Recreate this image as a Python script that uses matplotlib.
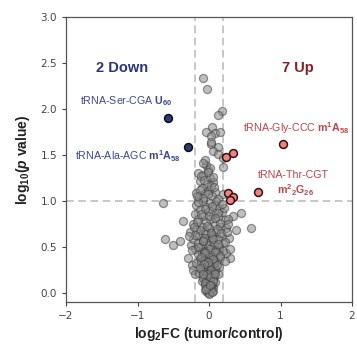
import matplotlib
matplotlib.use("Agg")
import matplotlib.pyplot as plt

plt.rcParams['mathtext.fontset'] = 'custom'
plt.rcParams['mathtext.rm'] = 'Liberation Sans'
plt.rcParams['mathtext.bf'] = 'Liberation Sans:bold'
plt.rcParams['mathtext.it'] = 'Liberation Sans:italic'
plt.rcParams['mathtext.bfit'] = 'Liberation Sans:bold:italic'

# ---- data ----
gray_x = [-0.09, -0.03, 0.18, 0.12, 0.04, -0.04, 0.08, 0.16, 0.03, 0.03, 0.12,
          0.03, 0.06, 0.13, 0.19, -0.04, -0.02, -0.16, 0.19,
          -0.65, -0.37, -0.61, -0.51, -0.40, 0.45, 0.59, 0.38, 0.33, -0.18, 0.19,
          0.19, 0.29, -0.30, -0.25, -0.24, -0.22, -0.20, 0.24,
          -0.08, 0.02, -0.12, 0.06, -0.03,
          -0.10, 0.00, 0.09, -0.06, 0.04, -0.14, 0.12,
          -0.08, 0.02, -0.18, 0.08, -0.04, 0.14, -0.12, 0.00,
          0.18, -0.20, 0.06, -0.08, 0.12, -0.15, 0.02, 0.22, -0.04, 0.26,
          -0.22, 0.08, -0.10, 0.16, 0.00, -0.18, 0.24, -0.06, 0.10, -0.26,
          0.04, -0.14, 0.18, -0.02, -0.22, 0.12, 0.28, -0.08, 0.06, -0.16, 0.22,
          0.00, -0.12, 0.14, -0.20, 0.08, -0.04, 0.20, -0.10, 0.02, -0.16, 0.12,
          -0.06, 0.06, -0.12, 0.16, 0.00, -0.08, 0.10, -0.18, 0.04, -0.02, 0.14,
          -0.10, 0.08, -0.04, 0.02, -0.14, 0.12, -0.06, 0.06,
          -0.02, -0.10, 0.08, 0.02, -0.05, 0.05, -0.01, 0.03, -0.03, 0.00,
          -0.05, 0.04, -0.09, 0.07, -0.02, 0.10, -0.07, 0.01, 0.05, -0.11,
          0.03, -0.04, 0.09, -0.08, 0.00, 0.06, -0.06, 0.02, -0.03, 0.04,
          -0.01, 0.07, -0.05, 0.01, -0.07, 0.05, -0.02, 0.03, 0.00, -0.04,
          0.02, -0.01, 0.01, -0.02, 0.00, 0.01,
          -0.05, -0.09, 0.01, -0.02, -0.11, 0.05, -0.07, 0.03, -0.13, 0.07,
          -0.01, -0.09, 0.10, -0.15, 0.04, -0.05, 0.13, -0.11, 0.00, 0.08,
          -0.17, 0.15, -0.03, 0.11, -0.13, 0.03, -0.19, 0.17, -0.07, 0.05,
          -0.09, 0.13, -0.15, 0.01, 0.09, -0.05, 0.15, -0.11, 0.05, -0.01,
          -0.07, 0.11, -0.13, 0.03, 0.07, -0.03, -0.09, 0.01, 0.05, -0.05,
          0.02, -0.02, 0.06, -0.06, 0.00, 0.04, -0.04, 0.02, 0.08, -0.08,
          0.21, -0.21, 0.25, -0.24, 0.18, -0.17, 0.22, 0.30, -0.28, 0.26]
gray_y = [2.33, 2.22, 1.98, 1.93, 1.80, 1.75, 1.74, 1.75, 1.70, 1.62, 1.59,
          1.64, 1.54, 1.51, 1.47, 1.39, 1.34, 1.30, 1.37,
          0.98, 0.78, 0.59, 0.52, 0.56, 0.87, 0.70, 0.68, 0.83, 1.08, 1.07,
          0.54, 0.38, 0.38, 0.52, 0.30, 0.25, 0.20, 0.43,
          1.28, 1.25, 1.22, 1.20, 1.18,
          1.14, 1.12, 1.10, 1.08, 1.05, 1.04, 1.02,
          1.00, 0.98, 0.96, 0.95, 0.93, 0.92, 0.90, 0.89,
          0.88, 0.86, 0.85, 0.84, 0.82, 0.80, 0.80, 0.79, 0.77, 0.80,
          0.75, 0.74, 0.72, 0.72, 0.70, 0.69, 0.70, 0.67, 0.66, 0.66,
          0.63, 0.62, 0.62, 0.60, 0.58, 0.58, 0.60, 0.56, 0.55, 0.54, 0.55,
          0.52, 0.50, 0.50, 0.48, 0.47, 0.46, 0.45, 0.44, 0.42, 0.42, 0.42,
          0.40, 0.38, 0.37, 0.38, 0.35, 0.33, 0.33, 0.32, 0.30, 0.28, 0.28,
          0.26, 0.25, 0.23, 0.21, 0.22, 0.20, 0.18, 0.17,
          0.15, 0.13, 0.12, 0.10, 0.08, 0.06, 0.04, 0.02, 0.01, 0.00,
          0.64, 0.61, 0.57, 0.52, 0.49, 0.47, 0.45, 0.40, 0.36, 0.34,
          0.31, 0.29, 0.26, 0.24, 0.22, 0.19, 0.16, 0.14, 0.11, 0.09,
          0.27, 0.32, 0.36, 0.41, 0.44, 0.15, 0.10, 0.07, 0.05, 0.12,
          0.03, 0.18, 0.24, 0.06, 0.30, 0.09,
          1.44, 1.41, 1.36, 1.31, 1.27, 1.26, 1.23, 1.16, 1.12, 1.15,
          1.07, 1.03, 1.00, 0.99, 0.94, 0.91, 0.87, 0.86, 0.83, 0.81,
          0.77, 0.76, 0.73, 0.69, 0.68, 0.65, 0.63, 0.65, 0.60, 0.58,
          0.56, 0.53, 0.50, 0.48, 0.44, 0.43, 0.40, 0.39, 0.37, 0.34,
          0.31, 0.30, 0.27, 0.25, 0.22, 0.20, 0.16, 0.17, 0.13, 0.11,
          0.07, 0.05, 0.02, 0.03, -0.01, 0.01, 0.04, 0.08, 0.20, 0.21,
          0.92, 0.72, 0.66, 0.47, 0.97, 1.05, 0.35, 0.48, 0.62, 0.75]
down_x = [-0.58, -0.30]
down_y = [1.90, 1.59]
up_x = [1.03, 0.24, 0.34, 0.69, 0.26, 0.34, 0.29]
up_y = [1.62, 1.48, 1.52, 1.10, 1.09, 1.04, 1.01]
fc_cut = [-0.2, 0.2]
p_cut = 1.0
xticks = [-2, -1, 0, 1, 2]
yticks = [0.0, 0.5, 1.0, 1.5, 2.0, 2.5, 3.0]

fig = plt.figure(figsize=(3.57, 3.44), dpi=100)
ax = fig.add_axes([0.185, 0.122, 0.801, 0.829])

ax.axvline(fc_cut[0], color='#b8b8b8', ls=(0, (5, 3)), lw=1.1, zorder=1)
ax.axvline(fc_cut[1], color='#b8b8b8', ls=(0, (5, 3)), lw=1.1, zorder=1)
ax.axhline(p_cut, color='#b8b8b8', ls=(0, (5, 3)), lw=1.1, zorder=1)

ax.scatter(gray_x, gray_y, s=34, facecolor='#8c8c8c', edgecolor='#404040',
           alpha=0.55, linewidths=0.9, zorder=2)
ax.scatter(down_x, down_y, s=32, facecolor='#2c3a78', edgecolor='#111111',
           linewidths=1.1, zorder=3)
ax.scatter(up_x, up_y, s=32, facecolor='#ea8585', edgecolor='#3a1010',
           linewidths=1.1, zorder=3)

blue = '#2a3580'
red = '#8e1c22'
ax.text(-1.21, 2.44, '2 Down', color=blue, fontsize=10.5, fontweight='bold',
        family='Liberation Sans', ha='center', va='center')
ax.text(1.24, 2.44, '7 Up', color=red, fontsize=10.5, fontweight='bold',
        family='Liberation Sans', ha='center', va='center')

lblue = '#3b4a8c'
lred = '#c0444a'
fs = 7.7
ax.text(-1.80, 2.08, r'tRNA-Ser-CGA $\mathbf{U}_{\mathbf{60}}$', color=lblue,
        fontsize=fs, family='Liberation Sans', ha='left', va='center')
ax.text(-1.87, 1.49, r'tRNA-Ala-AGC $\mathbf{m^{1}A}_{\mathbf{58}}$', color=lblue,
        fontsize=fs, family='Liberation Sans', ha='left', va='center')
ax.text(0.47, 1.79, r'tRNA-Gly-CCC $\mathbf{m^{1}A}_{\mathbf{58}}$', color=lred,
        fontsize=fs, family='Liberation Sans', ha='left', va='center')
ax.text(0.69, 1.28, 'tRNA-Thr-CGT', color=lred,
        fontsize=fs, family='Liberation Sans', ha='left', va='center')
ax.text(1.21, 1.12, r'$\mathbf{m^{2}{}_{2}G}_{\mathbf{26}}$', color=lred,
        fontsize=fs, family='Liberation Sans', ha='center', va='center')

ax.set_xlim(-2, 2)
ax.set_ylim(-0.1, 3.0)
ax.set_xticks(xticks)
ax.set_yticks(yticks)
ax.set_xticklabels(['\u22122', '\u22121', '0', '1', '2'])
ax.set_yticklabels([f'{v:.1f}' for v in yticks])
ax.tick_params(labelsize=7.5, colors='#444444', length=3, width=0.8)
for sp in ax.spines.values():
    sp.set_color('#555555')
    sp.set_linewidth(0.9)

ax.set_xlabel(r'log$_{\mathbf{2}}$FC (tumor/control)', fontsize=10,
              fontweight='bold', family='Liberation Sans', color='#222222', labelpad=3)
ax.set_ylabel(r'log$_{\mathbf{10}}$($\mathbfit{p}$ value)', fontsize=10,
              fontweight='bold', family='Liberation Sans', color='#222222', labelpad=6)

fig.savefig('out.png', dpi=100)
